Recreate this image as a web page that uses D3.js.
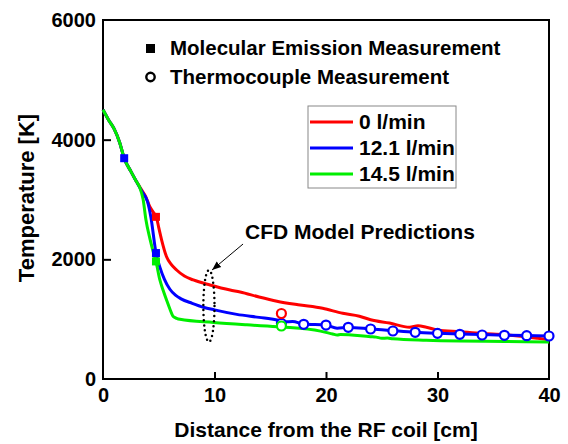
<!DOCTYPE html>
<html>
<head>
  <script src="https://cdnjs.cloudflare.com/ajax/libs/d3/7.8.5/d3.min.js"></script>
  <style>
    body { margin: 0; background: #fff; }
    text { font-family: "Liberation Sans", Arial, sans-serif; font-weight: bold; }
  </style>
</head>
<body>
  <svg id="chart" width="568" height="444"></svg>
  <script>
// CFD model predictions: [distance cm, temperature K]
var cfd0 = [[0,4500],[0.5,4330],[1,4180],[1.5,3950],[1.9,3690],[2.5,3470],[3,3300],[3.5,3150],
  [3.8,3060],[4.2,2880],[4.5,2790],[4.8,2700],[5.0,2530],[5.26,2323],[5.7,2044],[6.1,1920],
  [6.6,1822],[7.3,1720],[8.1,1655],[9.6,1571],[11.4,1487],[12.3,1455],[14,1370],[15.6,1300],
  [17.5,1240],[19.7,1182],[21.5,1098],[23,1050],[24,990],[25.7,935],[27.5,866],[28.25,890],
  [29,866],[30,820],[32,790],[34,760],[36,740],[37.7,710],[39,680],[40,655]];
var cfd121 = [[0,4500],[0.5,4330],[1,4180],[1.5,3950],[1.9,3690],[2.5,3470],[3,3300],[3.5,3130],
  [4,2960],[4.3,2700],[4.75,2110],[5.1,1870],[5.5,1670],[6,1500],[6.5,1400],[7,1340],[8,1265],
  [9,1200],[10,1155],[12,1080],[14,1030],[15.6,986],[16.3,955],[17,960],[18,918],[20,900],
  [21,850],[22,862],[24,836],[26,808],[28,782],[30,765],[32,752],[34,742],[36,733],[38,726],[40,720]];
var cfd145 = [[0,4500],[0.5,4330],[1,4180],[1.5,3950],[1.9,3690],[2.5,3470],[3,3300],[3.3,3200],
  [3.6,3000],[3.85,2660],[4.2,2350],[4.5,2130],[4.75,1965],[5.1,1655],[5.4,1480],[5.7,1320],
  [6.0,1170],[6.3,1045],[6.6,1015],[6.9,998],[9.9,945],[12.9,905],[16,870],[19.5,800],
  [20.6,752],[21,735],[21.3,745],[24,707],[24.5,700],[25,680],[25.5,685],[26,672],[29,648],
  [32,635],[36,628],[40,620]];

// molecular emission measurements (squares)
var emission0 = [[4.75,2710]];
var emission121 = [[1.9,3690],[4.75,2105]];
var emission145 = [[4.75,1965]];

// thermocouple measurements (circles)
var thermo0 = [[16,1095]];
var thermo121 = [[16,930],[18,914],[20,902],[22,864],[24,836],[26,802],[28,780],[30,763],
  [32,747],[34,735],[36,730],[38,724],[40,719]];
var thermo145 = [[16,886]];

var seriesNames = ["0 l/min", "12.1 l/min", "14.5 l/min"];
var seriesColors = ["#ff0000", "#0000ff", "#00ee00"];
var xTicks = [0, 10, 20, 30, 40];
var yTicks = [0, 2000, 4000, 6000];

var svg = d3.select("#chart");
var plotLeft = 103, plotRight = 549, plotTop = 20, plotBottom = 379;

var x = d3.scaleLinear().domain([0, 40]).range([plotLeft, plotRight]);
var y = d3.scaleLinear().domain([0, 6000]).range([plotBottom, plotTop]);

// axes with inward ticks
var xAxis = svg.append("g")
    .attr("transform", "translate(0," + plotBottom + ")")
    .call(d3.axisBottom(x).tickValues(xTicks).tickFormat(d3.format("d"))
      .tickSizeInner(-7).tickSizeOuter(0).tickPadding(9));
var yAxis = svg.append("g")
    .attr("transform", "translate(" + plotLeft + ",0)")
    .call(d3.axisLeft(y).tickValues(yTicks).tickFormat(d3.format("d"))
      .tickSizeInner(-8).tickSizeOuter(0).tickPadding(7));
[xAxis, yAxis].forEach(function(a) {
  a.select(".domain").remove();
  a.selectAll("line").attr("stroke-width", 2);
  a.selectAll("text").style("font-size", "20px").attr("fill", "#000");
});
yAxis.selectAll(".tick").filter(function(d) { return d === 0 || d === 6000; }).select("line").remove();
xAxis.selectAll(".tick").filter(function(d) { return d === 0 || d === 40; }).select("line").remove();

svg.append("rect")
    .attr("x", plotLeft).attr("y", plotTop)
    .attr("width", plotRight - plotLeft).attr("height", plotBottom - plotTop)
    .attr("fill", "none").attr("stroke", "#000").attr("stroke-width", 2);

svg.append("text")
    .attr("x", (plotLeft + plotRight) / 2).attr("y", 437)
    .attr("text-anchor", "middle").style("font-size", "21px")
    .text("Distance from the RF coil [cm]");
svg.append("text")
    .attr("transform", "translate(34," + 198 + ") rotate(-90)")
    .attr("text-anchor", "middle").style("font-size", "22px")
    .text("Temperature [K]");

// curves
var line = d3.line()
    .x(function(d) { return x(d[0]); })
    .y(function(d) { return y(d[1]); })
    .curve(d3.curveMonotoneX);

var curves = [cfd0, cfd121, cfd145];
curves.forEach(function(c, i) {
  svg.append("path").datum(c)
      .attr("d", line)
      .attr("fill", "none")
      .attr("stroke", seriesColors[i])
      .attr("stroke-width", 3);
});

// markers
var squares = [emission0, emission121, emission145];
squares.forEach(function(s, i) {
  svg.selectAll(null).data(s).enter().append("rect")
      .attr("x", function(d) { return x(d[0]) - 4; })
      .attr("y", function(d) { return y(d[1]) - 4; })
      .attr("width", 8).attr("height", 8)
      .attr("fill", seriesColors[i]);
});
var circles = [thermo121, thermo0, thermo145];
var circleColors = [seriesColors[1], seriesColors[0], seriesColors[2]];
circles.forEach(function(s, i) {
  svg.selectAll(null).data(s).enter().append("circle")
      .attr("cx", function(d) { return x(d[0]); })
      .attr("cy", function(d) { return y(d[1]); })
      .attr("r", 4.5)
      .attr("fill", "#fff")
      .attr("stroke", circleColors[i])
      .attr("stroke-width", 2.2);
});

// marker legend
svg.append("rect").attr("x", 146).attr("y", 44).attr("width", 9).attr("height", 9).attr("fill", "#000");
svg.append("text").attr("x", 170).attr("y", 55).style("font-size", "20.5px").text("Molecular Emission Measurement");
svg.append("circle").attr("cx", 150.5).attr("cy", 77).attr("r", 4.2).attr("fill", "#fff")
    .attr("stroke", "#000").attr("stroke-width", 2.4);
svg.append("text").attr("x", 170).attr("y", 84).style("font-size", "20.5px").text("Thermocouple Measurement");

// line legend
svg.append("rect").attr("x", 308).attr("y", 106).attr("width", 148).attr("height", 82)
    .attr("fill", "#fff").attr("stroke", "#888").attr("stroke-width", 1);
seriesNames.forEach(function(n, i) {
  var ly = 122 + i * 26;
  svg.append("line").attr("x1", 310).attr("x2", 353).attr("y1", ly).attr("y2", ly)
      .attr("stroke", seriesColors[i]).attr("stroke-width", 3);
  svg.append("text").attr("x", 359).attr("y", ly + 7).style("font-size", "21px").text(n);
});

// CFD annotation
svg.append("defs").append("marker")
    .attr("id", "arrow").attr("viewBox", "0 0 10 10")
    .attr("refX", 10).attr("refY", 5)
    .attr("markerWidth", 9).attr("markerHeight", 9)
    .attr("markerUnits", "userSpaceOnUse")
    .attr("orient", "auto")
    .append("path").attr("d", "M0,1 L10,5 L0,9 z").attr("fill", "#000");
svg.append("line")
    .attr("x1", x(12.56)).attr("y1", y(2256))
    .attr("x2", x(9.78)).attr("y2", y(1822))
    .attr("stroke", "#000").attr("stroke-width", 1)
    .attr("marker-end", "url(#arrow)");
svg.append("text").attr("x", 245).attr("y", 239).style("font-size", "21px").text("CFD Model Predictions");
svg.append("ellipse")
    .attr("cx", x(9.5)).attr("cy", y(1220))
    .attr("rx", x(10) - x(9.5)).attr("ry", y(600) - y(1200))
    .attr("fill", "none").attr("stroke", "#000").attr("stroke-width", 2.5)
    .attr("stroke-linecap", "round").attr("stroke-dasharray", "0 5");
  </script>
</body>
</html>
